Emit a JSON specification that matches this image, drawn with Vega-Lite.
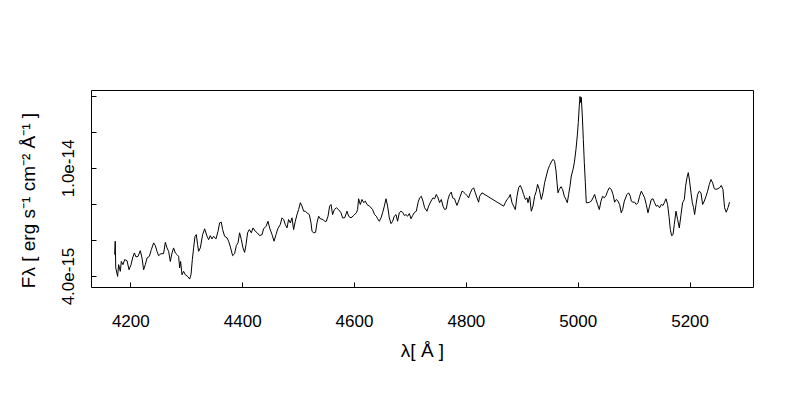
{
  "$schema": "https://vega.github.io/schema/vega-lite/v6.json",
  "width": 662,
  "height": 197,
  "autosize": "none",
  "padding": {"left": 91, "top": 90, "right": 47, "bottom": 113},
  "background": "white",
  "config": {
    "view": {"stroke": "black", "strokeWidth": 1},
    "font": "Liberation Sans",
    "axis": {"domain": false, "grid": false, "tickColor": "black", "labelColor": "black", "titleColor": "black", "labelFont": "Liberation Sans", "titleFont": "Liberation Sans", "labelFontSize": 17, "titleFontSize": 19, "titleFontWeight": "normal", "tickSize": -5, "tickWidth": 1}
  },
  "data": {"values": [
    {"wavelength":4172.0,"flux_e15":5.19},{"wavelength":4173.0,"flux_e15":5.93},{"wavelength":4174.0,"flux_e15":4.45},{"wavelength":4177.3,"flux_e15":3.98},
    {"wavelength":4179.1,"flux_e15":4.63},{"wavelength":4182.1,"flux_e15":4.26},{"wavelength":4183.9,"flux_e15":4.81},{"wavelength":4186.9,"flux_e15":4.63},
    {"wavelength":4189.8,"flux_e15":4.91},{"wavelength":4194.1,"flux_e15":4.85},{"wavelength":4197.7,"flux_e15":4.35},{"wavelength":4201.3,"flux_e15":4.63},
    {"wavelength":4204.1,"flux_e15":5.00},{"wavelength":4207.2,"flux_e15":5.28},{"wavelength":4210.2,"flux_e15":5.06},{"wavelength":4213.8,"flux_e15":5.09},
    {"wavelength":4217.9,"flux_e15":5.41},{"wavelength":4220.9,"flux_e15":5.00},{"wavelength":4223.8,"flux_e15":4.35},{"wavelength":4226.8,"flux_e15":4.63},
    {"wavelength":4229.9,"flux_e15":5.00},{"wavelength":4234.0,"flux_e15":5.09},{"wavelength":4237.6,"flux_e15":5.47},{"wavelength":4241.7,"flux_e15":5.84},
    {"wavelength":4244.7,"flux_e15":5.69},{"wavelength":4247.7,"flux_e15":5.37},{"wavelength":4250.6,"flux_e15":5.13},{"wavelength":4254.9,"flux_e15":5.24},
    {"wavelength":4259.5,"flux_e15":5.24},{"wavelength":4262.6,"flux_e15":5.87},{"wavelength":4265.6,"flux_e15":5.56},{"wavelength":4268.5,"flux_e15":5.37},
    {"wavelength":4271.5,"flux_e15":4.81},{"wavelength":4274.6,"flux_e15":5.28},{"wavelength":4277.4,"flux_e15":5.56},{"wavelength":4280.5,"flux_e15":5.28},
    {"wavelength":4283.5,"flux_e15":5.19},{"wavelength":4286.4,"flux_e15":5.09},{"wavelength":4288.2,"flux_e15":4.45},{"wavelength":4289.9,"flux_e15":4.81},
    {"wavelength":4292.4,"flux_e15":4.07},{"wavelength":4295.3,"flux_e15":4.26},{"wavelength":4298.3,"flux_e15":4.07},{"wavelength":4302.5,"flux_e15":3.98},
    {"wavelength":4306.0,"flux_e15":3.83},{"wavelength":4308.5,"flux_e15":4.07},{"wavelength":4310.9,"flux_e15":4.91},{"wavelength":4313.2,"flux_e15":5.56},
    {"wavelength":4315.7,"flux_e15":6.21},{"wavelength":4318.0,"flux_e15":6.30},{"wavelength":4320.3,"flux_e15":5.74},{"wavelength":4322.1,"flux_e15":5.37},
    {"wavelength":4325.2,"flux_e15":5.56},{"wavelength":4329.3,"flux_e15":6.30},{"wavelength":4332.9,"flux_e15":6.62},{"wavelength":4337.1,"flux_e15":6.21},
    {"wavelength":4340.0,"flux_e15":6.02},{"wavelength":4343.0,"flux_e15":6.24},{"wavelength":4346.1,"flux_e15":6.06},{"wavelength":4348.9,"flux_e15":6.21},
    {"wavelength":4353.2,"flux_e15":6.06},{"wavelength":4356.8,"flux_e15":6.48},{"wavelength":4359.7,"flux_e15":6.95},{"wavelength":4362.7,"flux_e15":6.99},
    {"wavelength":4365.0,"flux_e15":6.58},{"wavelength":4368.6,"flux_e15":6.21},{"wavelength":4372.9,"flux_e15":6.12},{"wavelength":4375.8,"flux_e15":5.93},
    {"wavelength":4379.4,"flux_e15":5.56},{"wavelength":4382.9,"flux_e15":5.13},{"wavelength":4386.5,"flux_e15":5.24},{"wavelength":4389.5,"flux_e15":5.69},
    {"wavelength":4392.6,"flux_e15":5.84},{"wavelength":4395.4,"flux_e15":6.40},{"wavelength":4398.5,"flux_e15":6.02},{"wavelength":4401.5,"flux_e15":5.56},
    {"wavelength":4404.4,"flux_e15":5.31},{"wavelength":4406.9,"flux_e15":5.74},{"wavelength":4409.7,"flux_e15":6.40},{"wavelength":4412.8,"flux_e15":6.58},
    {"wavelength":4416.3,"flux_e15":6.40},{"wavelength":4419.4,"flux_e15":6.67},{"wavelength":4423.5,"flux_e15":6.48},{"wavelength":4427.1,"flux_e15":6.40},
    {"wavelength":4431.2,"flux_e15":6.24},{"wavelength":4435.5,"flux_e15":6.30},{"wavelength":4438.3,"flux_e15":6.62},{"wavelength":4442.6,"flux_e15":6.76},
    {"wavelength":4446.2,"flux_e15":7.04},{"wavelength":4449.1,"flux_e15":6.67},{"wavelength":4453.4,"flux_e15":6.30},{"wavelength":4457.0,"flux_e15":5.93},
    {"wavelength":4460.5,"flux_e15":6.30},{"wavelength":4463.6,"flux_e15":6.62},{"wavelength":4468.2,"flux_e15":6.86},{"wavelength":4471.2,"flux_e15":7.23},
    {"wavelength":4474.1,"flux_e15":7.14},{"wavelength":4477.1,"flux_e15":6.86},{"wavelength":4480.2,"flux_e15":6.67},{"wavelength":4483.0,"flux_e15":7.14},
    {"wavelength":4486.1,"flux_e15":6.95},{"wavelength":4489.1,"flux_e15":7.23},{"wavelength":4492.0,"flux_e15":6.58},{"wavelength":4495.0,"flux_e15":7.04},
    {"wavelength":4498.0,"flux_e15":7.41},{"wavelength":4500.9,"flux_e15":7.69},{"wavelength":4504.0,"flux_e15":8.07},{"wavelength":4507.0,"flux_e15":7.88},
    {"wavelength":4509.9,"flux_e15":7.60},{"wavelength":4512.9,"flux_e15":7.60},{"wavelength":4515.9,"flux_e15":7.51},{"wavelength":4520.1,"flux_e15":7.41},
    {"wavelength":4523.1,"flux_e15":6.95},{"wavelength":4524.9,"flux_e15":6.48},{"wavelength":4527.7,"flux_e15":6.40},{"wavelength":4531.3,"flux_e15":6.43},
    {"wavelength":4533.8,"flux_e15":6.95},{"wavelength":4536.7,"flux_e15":7.32},{"wavelength":4539.7,"flux_e15":7.18},{"wavelength":4544.6,"flux_e15":7.14},
    {"wavelength":4547.4,"flux_e15":7.04},{"wavelength":4550.5,"flux_e15":7.04},{"wavelength":4553.5,"flux_e15":7.32},{"wavelength":4556.4,"flux_e15":7.88},
    {"wavelength":4558.9,"flux_e15":7.97},{"wavelength":4561.7,"flux_e15":7.41},{"wavelength":4564.8,"flux_e15":7.69},{"wavelength":4568.3,"flux_e15":7.79},
    {"wavelength":4572.4,"flux_e15":7.69},{"wavelength":4576.7,"flux_e15":7.51},{"wavelength":4579.6,"flux_e15":7.23},{"wavelength":4583.2,"flux_e15":7.23},
    {"wavelength":4587.5,"flux_e15":7.60},{"wavelength":4590.3,"flux_e15":7.32},{"wavelength":4594.6,"flux_e15":7.23},{"wavelength":4599.3,"flux_e15":7.36},
    {"wavelength":4604.1,"flux_e15":7.51},{"wavelength":4606.4,"flux_e15":7.69},{"wavelength":4608.2,"flux_e15":8.29},{"wavelength":4611.2,"flux_e15":7.97},
    {"wavelength":4614.3,"flux_e15":8.25},{"wavelength":4617.2,"flux_e15":8.07},{"wavelength":4620.2,"flux_e15":8.16},{"wavelength":4623.2,"flux_e15":7.97},
    {"wavelength":4627.9,"flux_e15":7.88},{"wavelength":4633.2,"flux_e15":7.69},{"wavelength":4636.8,"flux_e15":7.41},{"wavelength":4639.9,"flux_e15":7.32},
    {"wavelength":4642.2,"flux_e15":7.18},{"wavelength":4645.2,"flux_e15":7.04},{"wavelength":4648.3,"flux_e15":7.23},{"wavelength":4651.1,"flux_e15":7.51},
    {"wavelength":4654.2,"flux_e15":7.88},{"wavelength":4657.2,"flux_e15":8.29},{"wavelength":4660.1,"flux_e15":7.88},{"wavelength":4663.1,"flux_e15":7.23},
    {"wavelength":4666.1,"flux_e15":6.91},{"wavelength":4669.0,"flux_e15":7.04},{"wavelength":4672.0,"flux_e15":7.32},{"wavelength":4675.1,"flux_e15":7.41},
    {"wavelength":4677.9,"flux_e15":7.04},{"wavelength":4680.9,"flux_e15":7.51},{"wavelength":4684.0,"flux_e15":7.60},{"wavelength":4686.9,"flux_e15":7.54},
    {"wavelength":4689.9,"flux_e15":7.36},{"wavelength":4692.9,"flux_e15":7.41},{"wavelength":4695.8,"flux_e15":7.32},{"wavelength":4698.9,"flux_e15":7.47},
    {"wavelength":4701.9,"flux_e15":7.18},{"wavelength":4704.8,"flux_e15":7.36},{"wavelength":4708.3,"flux_e15":7.54},{"wavelength":4711.4,"flux_e15":7.60},
    {"wavelength":4714.4,"flux_e15":8.07},{"wavelength":4717.3,"flux_e15":8.34},{"wavelength":4720.3,"flux_e15":8.43},{"wavelength":4723.3,"flux_e15":8.16},
    {"wavelength":4726.2,"flux_e15":7.79},{"wavelength":4730.5,"flux_e15":7.60},{"wavelength":4733.4,"flux_e15":7.88},{"wavelength":4737.6,"flux_e15":8.16},
    {"wavelength":4741.2,"flux_e15":8.34},{"wavelength":4744.1,"flux_e15":8.29},{"wavelength":4747.1,"flux_e15":8.53},{"wavelength":4750.2,"flux_e15":8.34},
    {"wavelength":4753.0,"flux_e15":8.07},{"wavelength":4756.1,"flux_e15":8.25},{"wavelength":4759.1,"flux_e15":7.88},{"wavelength":4762.0,"flux_e15":7.69},
    {"wavelength":4765.0,"flux_e15":7.73},{"wavelength":4768.0,"flux_e15":8.25},{"wavelength":4770.9,"flux_e15":8.53},{"wavelength":4773.9,"flux_e15":8.66},
    {"wavelength":4776.3,"flux_e15":8.34},{"wavelength":4779.9,"flux_e15":8.29},{"wavelength":4781.1,"flux_e15":8.16},{"wavelength":4784.1,"flux_e15":7.92},
    {"wavelength":4787.0,"flux_e15":8.16},{"wavelength":4790.0,"flux_e15":8.43},{"wavelength":4793.1,"flux_e15":8.71},{"wavelength":4795.9,"flux_e15":8.66},
    {"wavelength":4799.0,"flux_e15":8.57},{"wavelength":4802.0,"flux_e15":8.47},{"wavelength":4804.9,"flux_e15":8.34},{"wavelength":4807.9,"flux_e15":8.62},
    {"wavelength":4811.0,"flux_e15":8.81},{"wavelength":4813.8,"flux_e15":8.90},{"wavelength":4816.9,"flux_e15":8.62},{"wavelength":4819.9,"flux_e15":8.34},
    {"wavelength":4822.8,"flux_e15":8.10},{"wavelength":4824.6,"flux_e15":8.43},{"wavelength":4828.8,"flux_e15":8.62},{"wavelength":4867.5,"flux_e15":7.88},
    {"wavelength":4870.5,"flux_e15":8.07},{"wavelength":4873.5,"flux_e15":8.25},{"wavelength":4876.4,"flux_e15":8.34},{"wavelength":4879.4,"flux_e15":8.53},
    {"wavelength":4882.5,"flux_e15":8.07},{"wavelength":4885.4,"flux_e15":7.88},{"wavelength":4888.4,"flux_e15":7.69},{"wavelength":4891.4,"flux_e15":8.43},
    {"wavelength":4894.3,"flux_e15":8.90},{"wavelength":4897.3,"flux_e15":9.03},{"wavelength":4900.4,"flux_e15":8.81},{"wavelength":4903.2,"flux_e15":8.53},
    {"wavelength":4906.3,"flux_e15":8.25},{"wavelength":4909.3,"flux_e15":8.34},{"wavelength":4911.1,"flux_e15":8.07},{"wavelength":4914.0,"flux_e15":8.43},
    {"wavelength":4917.0,"flux_e15":7.60},{"wavelength":4920.0,"flux_e15":7.88},{"wavelength":4922.9,"flux_e15":8.43},{"wavelength":4925.9,"flux_e15":8.71},
    {"wavelength":4928.2,"flux_e15":9.09},{"wavelength":4931.3,"flux_e15":8.81},{"wavelength":4934.9,"flux_e15":8.25},{"wavelength":4937.9,"flux_e15":8.62},
    {"wavelength":4940.8,"flux_e15":9.18},{"wavelength":4943.8,"flux_e15":9.55},{"wavelength":4946.9,"flux_e15":9.92},{"wavelength":4949.7,"flux_e15":10.14},
    {"wavelength":4952.7,"flux_e15":10.33},{"wavelength":4955.8,"flux_e15":10.48},{"wavelength":4958.6,"flux_e15":10.38},{"wavelength":4961.2,"flux_e15":9.83},
    {"wavelength":4963.0,"flux_e15":9.18},{"wavelength":4964.7,"flux_e15":8.62},{"wavelength":4967.1,"flux_e15":8.81},{"wavelength":4970.1,"flux_e15":8.96},
    {"wavelength":4972.9,"flux_e15":8.81},{"wavelength":4976.0,"flux_e15":8.43},{"wavelength":4979.0,"flux_e15":8.25},{"wavelength":4981.4,"flux_e15":8.07},
    {"wavelength":4983.7,"flux_e15":8.53},{"wavelength":4986.2,"flux_e15":8.99},{"wavelength":4988.5,"flux_e15":9.55},{"wavelength":4991.6,"flux_e15":9.92},
    {"wavelength":4993.9,"flux_e15":10.29},{"wavelength":4996.9,"flux_e15":11.04},{"wavelength":4999.2,"flux_e15":11.78},{"wavelength":5001.0,"flux_e15":12.52},
    {"wavelength":5002.8,"flux_e15":13.45},{"wavelength":5004.1,"flux_e15":13.97},{"wavelength":5005.2,"flux_e15":13.64},{"wavelength":5006.4,"flux_e15":13.92},
    {"wavelength":5008.2,"flux_e15":12.89},{"wavelength":5010.0,"flux_e15":11.59},{"wavelength":5011.8,"flux_e15":10.29},{"wavelength":5013.6,"flux_e15":9.18},
    {"wavelength":5015.3,"flux_e15":8.07},{"wavelength":5018.4,"flux_e15":8.07},{"wavelength":5021.2,"flux_e15":8.10},{"wavelength":5024.3,"flux_e15":8.16},
    {"wavelength":5027.3,"flux_e15":8.34},{"wavelength":5030.2,"flux_e15":8.53},{"wavelength":5032.7,"flux_e15":8.25},{"wavelength":5035.5,"flux_e15":7.97},
    {"wavelength":5038.6,"flux_e15":7.69},{"wavelength":5041.6,"flux_e15":8.16},{"wavelength":5044.5,"flux_e15":8.43},{"wavelength":5047.5,"flux_e15":8.34},
    {"wavelength":5050.6,"flux_e15":8.47},{"wavelength":5053.4,"flux_e15":8.71},{"wavelength":5056.5,"flux_e15":8.90},{"wavelength":5060.0,"flux_e15":8.81},
    {"wavelength":5063.1,"flux_e15":8.53},{"wavelength":5065.9,"flux_e15":8.10},{"wavelength":5069.0,"flux_e15":8.25},{"wavelength":5072.0,"flux_e15":8.16},
    {"wavelength":5074.9,"flux_e15":7.97},{"wavelength":5077.9,"flux_e15":7.51},{"wavelength":5080.3,"flux_e15":7.69},{"wavelength":5083.3,"flux_e15":8.16},
    {"wavelength":5088.1,"flux_e15":8.53},{"wavelength":5091.0,"flux_e15":8.62},{"wavelength":5094.0,"flux_e15":8.43},{"wavelength":5095.8,"flux_e15":8.16},
    {"wavelength":5098.8,"flux_e15":8.10},{"wavelength":5101.7,"flux_e15":8.10},{"wavelength":5104.7,"flux_e15":7.97},{"wavelength":5107.8,"flux_e15":8.07},
    {"wavelength":5110.6,"flux_e15":8.43},{"wavelength":5113.7,"flux_e15":8.71},{"wavelength":5116.7,"flux_e15":8.53},{"wavelength":5119.6,"flux_e15":8.34},
    {"wavelength":5122.6,"flux_e15":7.97},{"wavelength":5125.6,"flux_e15":7.51},{"wavelength":5128.5,"flux_e15":7.88},{"wavelength":5131.5,"flux_e15":8.25},
    {"wavelength":5134.6,"flux_e15":8.29},{"wavelength":5137.4,"flux_e15":8.07},{"wavelength":5140.5,"flux_e15":7.88},{"wavelength":5143.5,"flux_e15":7.92},
    {"wavelength":5146.4,"flux_e15":7.79},{"wavelength":5149.4,"flux_e15":7.97},{"wavelength":5152.5,"flux_e15":7.92},{"wavelength":5155.3,"flux_e15":8.10},
    {"wavelength":5157.8,"flux_e15":8.29},{"wavelength":5160.7,"flux_e15":7.97},{"wavelength":5163.2,"flux_e15":7.32},{"wavelength":5165.6,"flux_e15":6.58},
    {"wavelength":5167.9,"flux_e15":6.24},{"wavelength":5170.4,"flux_e15":6.30},{"wavelength":5172.7,"flux_e15":6.86},{"wavelength":5175.7,"flux_e15":7.60},
    {"wavelength":5178.6,"flux_e15":7.14},{"wavelength":5181.6,"flux_e15":6.67},{"wavelength":5184.7,"flux_e15":7.41},{"wavelength":5187.5,"flux_e15":8.07},
    {"wavelength":5190.6,"flux_e15":8.25},{"wavelength":5192.9,"flux_e15":8.99},{"wavelength":5195.4,"flux_e15":9.46},{"wavelength":5197.7,"flux_e15":9.74},
    {"wavelength":5200.0,"flux_e15":9.27},{"wavelength":5202.5,"flux_e15":8.62},{"wavelength":5204.9,"flux_e15":8.07},{"wavelength":5207.2,"flux_e15":7.79},
    {"wavelength":5209.0,"flux_e15":7.41},{"wavelength":5211.5,"flux_e15":7.97},{"wavelength":5214.4,"flux_e15":8.53},{"wavelength":5217.4,"flux_e15":8.71},
    {"wavelength":5220.4,"flux_e15":8.62},{"wavelength":5223.3,"flux_e15":7.97},{"wavelength":5226.3,"flux_e15":8.16},{"wavelength":5229.4,"flux_e15":8.43},
    {"wavelength":5232.2,"flux_e15":8.71},{"wavelength":5235.3,"flux_e15":9.09},{"wavelength":5238.3,"flux_e15":9.36},{"wavelength":5241.2,"flux_e15":9.18},
    {"wavelength":5244.2,"flux_e15":8.85},{"wavelength":5247.2,"flux_e15":8.81},{"wavelength":5250.8,"flux_e15":8.85},{"wavelength":5253.7,"flux_e15":8.90},
    {"wavelength":5256.7,"flux_e15":9.03},{"wavelength":5259.7,"flux_e15":8.81},{"wavelength":5262.6,"flux_e15":7.79},{"wavelength":5265.6,"flux_e15":7.54},
    {"wavelength":5268.6,"flux_e15":7.79},{"wavelength":5271.5,"flux_e15":8.10}
  ]},
  "mark": {"type": "line", "color": "black", "strokeWidth": 1, "interpolate": "linear"},
  "encoding": {
    "x": {
      "field": "wavelength", "type": "quantitative", "sort": null,
      "scale": {"domain": [4129.7, 5313.4], "nice": false, "zero": false},
      "axis": {"values": [4200, 4400, 4600, 4800, 5000, 5200], "format": "d", "labelPadding": 31, "labelBaseline": "top", "title": "λ[ Å ]", "titleY": 63, "titleBaseline": "middle", "titleX": 331}
    },
    "y": {
      "field": "flux_e15", "type": "quantitative",
      "scale": {"domain": [3.39, 14.33], "nice": false, "zero": false},
      "axis": {"values": [4, 6, 8, 10, 12, 14], "labelExpr": "datum.value == 4 ? '4.0e-15' : (datum.value == 10 ? '1.0e-14' : '')", "labelAngle": -90, "labelAlign": "center", "labelBaseline": "bottom", "labelPadding": 19, "labelOverlap": false, "labelFlush": false, "title": "Fλ [ erg s⁻¹ cm⁻² Å⁻¹ ]", "titleX": -63, "titleY": 110, "titleBaseline": "middle", "titleAngle": -90}
    }
  }
}
